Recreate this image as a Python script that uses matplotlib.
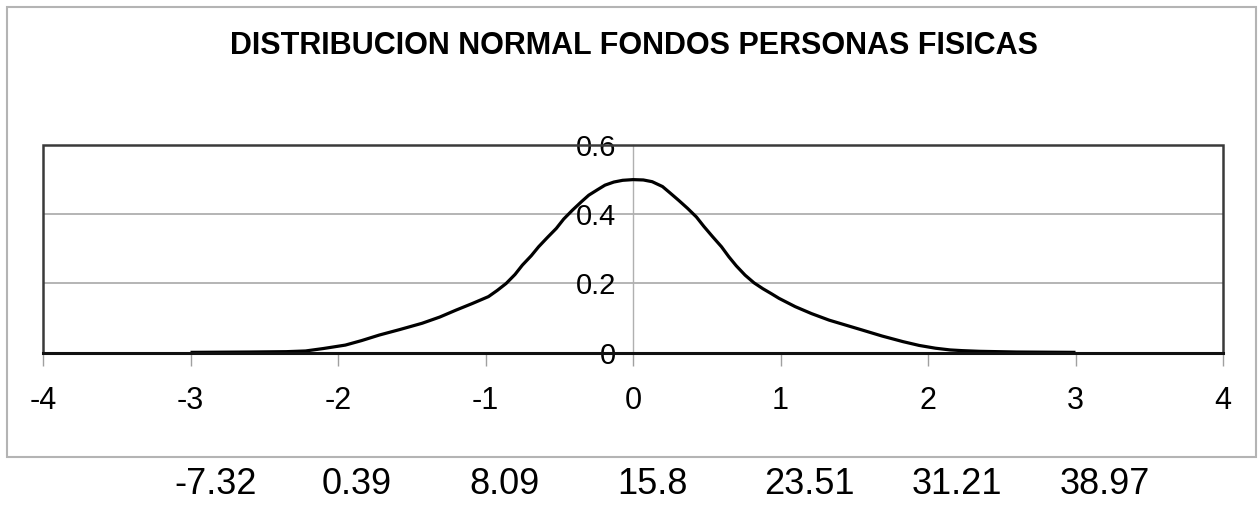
import numpy as np
import matplotlib.pyplot as plt
import matplotlib.transforms as mtransforms
from matplotlib.patches import Rectangle

# values
curve_x = [-3.0, -2.6, -2.35, -2.22, -2.10, -1.95, -1.84, -1.72, -1.58, -1.43,
           -1.31, -1.20, -1.09, -0.98, -0.92, -0.86, -0.80, -0.75, -0.69, -0.64,
           -0.58, -0.52, -0.47, -0.41, -0.35, -0.30, -0.24, -0.19, -0.13, -0.07,
           0.0, 0.07, 0.13, 0.20, 0.25, 0.31, 0.37, 0.43, 0.48, 0.54,
           0.60, 0.65, 0.70, 0.76, 0.82, 0.88, 0.94, 0.99, 1.10, 1.21,
           1.33, 1.44, 1.55, 1.69, 1.83, 1.94, 2.05, 2.15, 2.23, 2.35,
           2.6, 3.0]
curve_y = [0.001, 0.002, 0.003, 0.005, 0.012, 0.022, 0.035, 0.051, 0.067, 0.085,
           0.103, 0.123, 0.142, 0.162, 0.180, 0.200, 0.226, 0.253, 0.280, 0.306,
           0.333, 0.359, 0.386, 0.412, 0.436, 0.455, 0.471, 0.484, 0.493, 0.498,
           0.500, 0.499, 0.494, 0.480, 0.462, 0.440, 0.417, 0.392, 0.365, 0.335,
           0.306, 0.277, 0.251, 0.224, 0.202, 0.185, 0.170, 0.157, 0.133, 0.113,
           0.094, 0.080, 0.066, 0.048, 0.032, 0.021, 0.013, 0.008, 0.006, 0.004,
           0.002, 0.001]

x_ticks = [-4, -3, -2, -1, 0, 1, 2, 3, 4]
y_ticks = [0, 0.2, 0.4, 0.6]
y_tick_labels = ['0', '0.2', '0.4', '0.6']

bottom_z = [-3, -2, -1, 0, 1, 2, 3]
bottom_labels = ['-7.32', '0.39', '8.09', '15.8', '23.51', '31.21', '38.97']

title = 'DISTRIBUCION NORMAL FONDOS PERSONAS FISICAS'

FONT = ['Liberation Sans Narrow', 'Liberation Sans', 'DejaVu Sans']

W, H = 1259, 507
fig = plt.figure(figsize=(W / 100, H / 100), dpi=100)
fig.patch.set_facecolor('white')

# outer chart border
fig.add_artist(Rectangle((7 / W, (H - 457) / H), 1249 / W, 450 / H,
                         transform=fig.transFigure, fill=False,
                         edgecolor='#b4b4b4', linewidth=1.5))

ax = fig.add_axes([43 / W, (H - 352.7) / H, 1180 / W, 207.7 / H])
ax.set_xlim(-4, 4)
ax.set_ylim(0, 0.6)

# gridlines
for yv in y_ticks[1:-1]:
    ax.axhline(yv, color='#a8a8a8', linewidth=1.2, zorder=1)

ax.plot(curve_x, curve_y, color='black', linewidth=2.3, zorder=3,
        solid_joinstyle='round', solid_capstyle='butt')

# plot area frame
ax.add_patch(Rectangle((0, 0), 1, 1, transform=ax.transAxes, fill=False,
                       edgecolor='#3a3a3a', linewidth=1.8, zorder=4, clip_on=False))
ax.spines['top'].set_visible(False)
ax.spines['right'].set_visible(False)
ax.spines['bottom'].set_color('#111111')
ax.spines['bottom'].set_linewidth(2.2)
ax.spines['bottom'].set_zorder(5)
ax.spines['left'].set_position(('data', 0))
ax.spines['left'].set_color('#b0b0b0')
ax.spines['left'].set_linewidth(1.0)

ax.set_xticks(x_ticks)
ax.set_xticklabels([str(v) for v in x_ticks], fontsize=22,
                   family=['Liberation Sans', 'DejaVu Sans'])
ax.tick_params(axis='x', direction='out', length=9, width=1, color='#a0a0a0', pad=15)

ax.set_yticks(y_ticks)
ax.set_yticklabels(y_tick_labels, fontsize=21, family=FONT)
ax.tick_params(axis='y', length=0, pad=12)

fig.text(634 / W, 1 - 46 / H, title, ha='center', va='center',
         fontsize=22, fontweight='bold', family=FONT)

# z-score values shown below the chart
trans = mtransforms.blended_transform_factory(ax.transData, fig.transFigure)
trans = mtransforms.offset_copy(trans, fig=fig, x=-16, y=0, units='dots')
for z, lab in zip(bottom_z, bottom_labels):
    ax.text(z, 1 - 485 / H, lab, transform=trans, ha='left', va='center',
            fontsize=26, family=FONT, clip_on=False)

fig.savefig('out.png', dpi=100)
